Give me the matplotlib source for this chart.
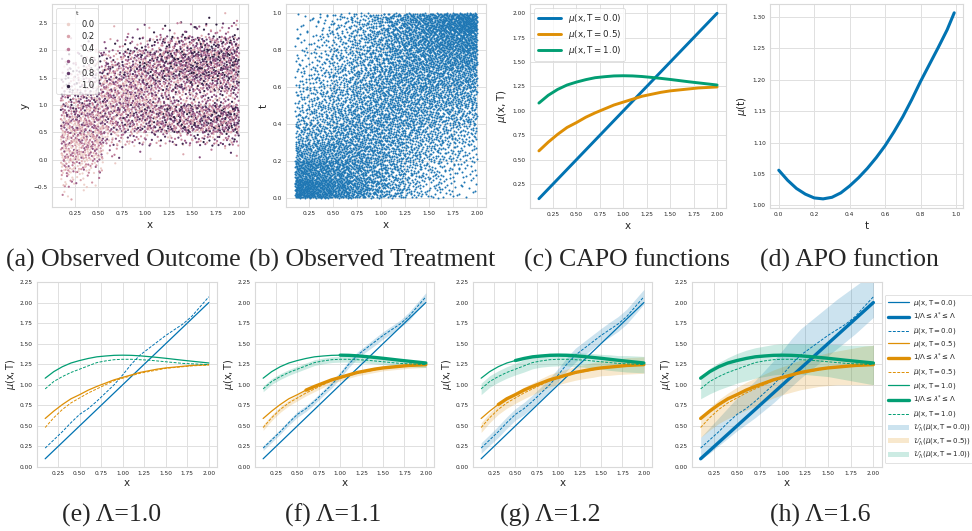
import numpy as np
import matplotlib
matplotlib.use("Agg")
import matplotlib.pyplot as plt
import seaborn as sns
from matplotlib.lines import Line2D
from matplotlib.patches import Patch

W, H = 972, 531

# wspolna siatka x dla funkcji CAPO
xs = [0.1, 0.2, 0.3, 0.4, 0.5, 0.6, 0.7, 0.8, 0.9, 1.0,
      1.1, 1.2, 1.3, 1.4, 1.5, 1.6, 1.7, 1.8, 1.9, 2.0]

# prawdziwe mu(x, T)
mu_t00 = [0.1, 0.2, 0.3, 0.4, 0.5, 0.6, 0.7, 0.8, 0.9, 1.0,
          1.1, 1.2, 1.3, 1.4, 1.5, 1.6, 1.7, 1.8, 1.9, 2.0]
mu_t05 = [0.59, 0.68, 0.76, 0.83, 0.88, 0.935, 0.98, 1.02, 1.06, 1.09,
          1.12, 1.15, 1.17, 1.19, 1.205, 1.215, 1.225, 1.235, 1.24, 1.245]
mu_t10 = [1.08, 1.16, 1.22, 1.265, 1.295, 1.32, 1.34, 1.35, 1.358, 1.36,
          1.358, 1.352, 1.343, 1.333, 1.322, 1.31, 1.298, 1.287, 1.276, 1.265]

# estymaty (linie przerywane)
hat_t00 = [0.23, 0.33, 0.43, 0.54, 0.64, 0.71, 0.80, 0.90, 1.00, 1.12,
           1.25, 1.36, 1.44, 1.52, 1.60, 1.67, 1.74, 1.83, 1.95, 2.07]
hat_t05 = [0.48, 0.60, 0.70, 0.78, 0.84, 0.90, 0.95, 1.00, 1.05, 1.08,
           1.11, 1.14, 1.16, 1.18, 1.20, 1.21, 1.22, 1.23, 1.235, 1.24]
hat_t10 = [0.95, 1.04, 1.10, 1.15, 1.19, 1.23, 1.27, 1.29, 1.305, 1.31,
           1.31, 1.305, 1.30, 1.29, 1.28, 1.27, 1.26, 1.255, 1.25, 1.245]

# polszerokosci przedzialow, Lambda = 1.1
f_w00 = [0.03, 0.03, 0.03, 0.03, 0.035, 0.035, 0.035, 0.035, 0.04, 0.04,
         0.04, 0.04, 0.04, 0.045, 0.045, 0.045, 0.045, 0.05, 0.05, 0.05]
f_w05 = [0.035, 0.035, 0.035, 0.035, 0.035, 0.035, 0.033, 0.033, 0.033, 0.033,
         0.03, 0.03, 0.03, 0.03, 0.03, 0.03, 0.03, 0.03, 0.03, 0.03]
f_w10 = [0.035, 0.035, 0.035, 0.035, 0.035, 0.035, 0.035, 0.035, 0.035, 0.035,
         0.035, 0.035, 0.035, 0.035, 0.035, 0.035, 0.035, 0.035, 0.035, 0.035]
# Lambda = 1.2
g_w00 = [0.065, 0.065, 0.07, 0.07, 0.07, 0.075, 0.075, 0.075, 0.08, 0.08,
         0.08, 0.085, 0.085, 0.085, 0.085, 0.09, 0.09, 0.09, 0.09, 0.09]
g_w05 = [0.06, 0.06, 0.06, 0.065, 0.065, 0.07, 0.07, 0.075, 0.075, 0.08,
         0.08, 0.085, 0.085, 0.09, 0.09, 0.095, 0.095, 0.1, 0.1, 0.1]
g_w10 = [0.07, 0.07, 0.07, 0.07, 0.07, 0.075, 0.075, 0.075, 0.08, 0.08,
         0.08, 0.085, 0.085, 0.09, 0.09, 0.095, 0.095, 0.1, 0.1, 0.1]
# Lambda = 1.6 (dolna / gorna granica)
h_lo00 = [0.09, 0.17, 0.26, 0.35, 0.44, 0.52, 0.60, 0.69, 0.78, 0.88,
          0.98, 1.08, 1.17, 1.26, 1.35, 1.44, 1.53, 1.62, 1.72, 1.82]
h_hi00 = [0.36, 0.48, 0.60, 0.72, 0.84, 0.94, 1.05, 1.17, 1.29, 1.42,
          1.56, 1.68, 1.77, 1.86, 1.95, 2.04, 2.12, 2.20, 2.28, 2.36]
h_lo05 = [0.36, 0.45, 0.53, 0.59, 0.64, 0.69, 0.74, 0.79, 0.84, 0.88,
          0.91, 0.94, 0.96, 0.98, 0.99, 1.0, 1.0, 1.0, 1.0, 1.0]
h_hi05 = [0.60, 0.72, 0.82, 0.90, 0.97, 1.03, 1.08, 1.13, 1.18, 1.22,
          1.26, 1.30, 1.33, 1.36, 1.39, 1.41, 1.43, 1.45, 1.47, 1.48]
h_lo10 = [0.83, 0.89, 0.94, 0.98, 1.02, 1.05, 1.08, 1.10, 1.12, 1.13,
          1.13, 1.13, 1.12, 1.11, 1.10, 1.08, 1.06, 1.04, 1.02, 1.00]
h_hi10 = [1.10, 1.20, 1.27, 1.33, 1.38, 1.42, 1.45, 1.47, 1.49, 1.50,
          1.50, 1.50, 1.50, 1.50, 1.49, 1.49, 1.48, 1.48, 1.48, 1.48]

# od jakiego x rysowac gruba linie 1/L <= l* <= L  (None = wcale)
thick_e = [None, None, None]
thick_f = [None, 0.6, 1.0]
thick_g = [None, 0.3, 0.5]
thick_h = [0.1, 0.1, 0.1]

# APO
t_apo = [0.0, 0.05, 0.1, 0.15, 0.2, 0.25, 0.3, 0.35, 0.4, 0.45, 0.5,
         0.55, 0.6, 0.65, 0.7, 0.75, 0.8, 0.85, 0.9, 0.95, 0.99]
mu_apo = [1.056, 1.040, 1.027, 1.018, 1.012, 1.0105, 1.013, 1.020, 1.031, 1.044, 1.059,
          1.076, 1.095, 1.117, 1.141, 1.168, 1.197, 1.224, 1.251, 1.279, 1.306]

# gestosc punktow (b): wiersze t 0-0.1 ... 0.9-1.0, kolumny wg xb_edges_b
xb_edges_b = [0.1, 0.29, 0.48, 0.67, 0.86, 1.05, 1.24, 1.43, 1.62, 1.81, 2.0]
dens_b = [
    [230, 190, 150, 115, 85, 60, 40, 25, 15, 10],
    [160, 140, 120, 100, 80, 62, 45, 32, 22, 15],
    [90, 95, 95, 90, 80, 68, 55, 42, 32, 25],
    [55, 65, 75, 80, 78, 72, 65, 55, 45, 38],
    [40, 50, 62, 72, 78, 78, 74, 68, 60, 55],
    [30, 40, 52, 65, 75, 80, 80, 78, 74, 70],
    [22, 32, 45, 58, 72, 82, 88, 90, 90, 90],
    [16, 25, 38, 52, 68, 84, 96, 105, 112, 120],
    [12, 20, 32, 46, 64, 85, 105, 122, 140, 160],
    [8, 15, 26, 40, 60, 85, 112, 140, 175, 220],
]

# gestosc punktow (a): wiersze y od -0.75 co 0.25, kolumny wg xb_edges_a
xb_edges_a = [0.1, 0.25, 0.4, 0.55, 0.75, 0.95, 1.15, 1.35, 1.55, 1.75, 2.0]
dens_a = [
    [4, 1, 0, 0, 0, 0, 0, 0, 0, 0],
    [14, 8, 3, 0, 0, 0, 0, 0, 0, 0],
    [30, 25, 15, 1, 0, 0, 0, 0, 0, 0],
    [40, 40, 35, 6, 2, 1, 0, 1, 2, 3],
    [42, 45, 45, 25, 18, 14, 15, 18, 22, 30],
    [40, 45, 45, 45, 45, 45, 50, 55, 60, 75],
    [32, 38, 42, 55, 55, 55, 55, 55, 58, 72],
    [25, 30, 35, 55, 55, 45, 32, 28, 26, 30],
    [16, 22, 28, 50, 52, 48, 42, 44, 46, 56],
    [10, 15, 20, 40, 48, 52, 55, 58, 60, 75],
    [5, 8, 12, 22, 35, 45, 55, 58, 60, 75],
    [1, 2, 3, 6, 12, 20, 32, 36, 40, 52],
    [0, 0, 0, 1, 2, 3, 6, 8, 10, 13],
    [0, 0, 0, 0, 0, 0, 0, 1, 1, 2],
]
# typowe t w komorce (kolor punktow w (a))
tmean_a = [
    [0.1, 0.1, 0.1, 0.1, 0.1, 0.1, 0.1, 0.1, 0.1, 0.1],
    [0.12, 0.12, 0.15, 0.2, 0.2, 0.2, 0.2, 0.2, 0.2, 0.2],
    [0.15, 0.15, 0.15, 0.3, 0.3, 0.3, 0.3, 0.3, 0.3, 0.3],
    [0.15, 0.15, 0.2, 0.35, 0.35, 0.35, 0.45, 0.45, 0.5, 0.5],
    [0.2, 0.2, 0.25, 0.35, 0.4, 0.45, 0.5, 0.5, 0.55, 0.55],
    [0.3, 0.3, 0.3, 0.4, 0.45, 0.5, 0.55, 0.55, 0.55, 0.6],
    [0.45, 0.4, 0.35, 0.4, 0.45, 0.5, 0.55, 0.55, 0.55, 0.6],
    [0.55, 0.5, 0.45, 0.35, 0.35, 0.4, 0.45, 0.45, 0.45, 0.5],
    [0.6, 0.55, 0.5, 0.35, 0.35, 0.45, 0.5, 0.55, 0.55, 0.55],
    [0.6, 0.55, 0.5, 0.45, 0.5, 0.55, 0.55, 0.6, 0.6, 0.6],
    [0.65, 0.6, 0.55, 0.5, 0.55, 0.55, 0.6, 0.6, 0.6, 0.6],
    [0.65, 0.65, 0.6, 0.6, 0.6, 0.6, 0.6, 0.6, 0.6, 0.6],
    [0.6, 0.6, 0.6, 0.6, 0.6, 0.6, 0.6, 0.6, 0.6, 0.6],
    [0.6, 0.6, 0.6, 0.6, 0.6, 0.6, 0.6, 0.6, 0.6, 0.6],
]

captions_top = ["(a) Observed Outcome", "(b) Observed Treatment", "(c) CAPO functions", "(d) APO function"]
captions_bot = ["(e) \u039b=1.0", "(f) \u039b=1.1", "(g) \u039b=1.2", "(h) \u039b=1.6"]


def halton(i, base):
    f, r = 1.0, 0.0
    while i > 0:
        f /= base
        r += f * (i % base)
        i //= base
    return r


def punkty_z_tabeli(tabela, x_kraw, y_kraw):
    # rozklada punkty w komorkach wg tabeli (ciag Haltona, bez losowania)
    px, py, kom, ks = [], [], [], []
    k = 1
    for j in range(len(y_kraw) - 1):
        for i in range(len(x_kraw) - 1):
            for _ in range(tabela[j][i]):
                px.append(x_kraw[i] + halton(k, 2) * (x_kraw[i + 1] - x_kraw[i]))
                py.append(y_kraw[j] + halton(k, 3) * (y_kraw[j + 1] - y_kraw[j]))
                kom.append((j, i))
                ks.append(k)
                k += 1
    return np.array(px), np.array(py), kom, ks


def box(l, t, r, b):
    return [l / W, 1 - b / H, (r - l) / W, (b - t) / H]


sns.set_theme(style="whitegrid")
plt.rcParams['font.family'] = ['DejaVu Sans']
plt.rcParams['axes.edgecolor'] = '.85'
plt.rcParams['axes.linewidth'] = 0.8
plt.rcParams['grid.color'] = '.88'
plt.rcParams['grid.linewidth'] = 0.7
plt.rcParams['xtick.labelsize'] = 4.2
plt.rcParams['ytick.labelsize'] = 4.2
plt.rcParams['xtick.major.size'] = 0
plt.rcParams['ytick.major.size'] = 0
plt.rcParams['xtick.major.pad'] = 3
plt.rcParams['ytick.major.pad'] = 3
plt.rcParams['axes.labelsize'] = 7.5
plt.rcParams['axes.labelpad'] = 2.5

kolory = sns.color_palette("colorblind")[:3]
cmap_t = sns.cubehelix_palette(as_cmap=True)

fig = plt.figure(figsize=(W / 100, H / 100), dpi=100)

# (a) obserwowany wynik
ax = fig.add_axes(box(52, 4, 248, 207))
px, py, kom, ks = punkty_z_tabeli(dens_a, xb_edges_a, np.arange(-0.75, 2.76, 0.25))
tt = np.array([min(1, max(0, tmean_a[j][i] + (halton(k, 5) - 0.5) * 1.0)) for (j, i), k in zip(kom, ks)])
kol = np.argsort([halton(k, 7) for k in ks])
ax.scatter(px[kol], py[kol], c=tt[kol], cmap=cmap_t, vmin=0, vmax=1, s=2.5, linewidths=0)
ax.set_xlim(0.005, 2.095)
ax.set_ylim(-0.86, 2.84)
ax.set_xticks(np.arange(0.25, 2.01, 0.25))
ax.set_xlabel("x")
ax.set_ylabel("y")
uchwyty = [Line2D([], [], ls='', marker='o', ms=2.5, mew=0, color=cmap_t(v)) for v in [0.0, 0.2, 0.4, 0.6, 0.8, 1.0]]
leg = ax.legend(uchwyty, ["0.0", "0.2", "0.4", "0.6", "0.8", "1.0"], title="t", loc="upper left",
                fontsize=6, title_fontsize=4.5, handletextpad=0.6, labelspacing=0.4, borderpad=0.4,
                frameon=True, framealpha=0.8)
leg.get_frame().set_linewidth(0.5)

# (b) obserwowane leczenie
ax = fig.add_axes(box(286, 4, 486, 207))
px, py, kom, ks = punkty_z_tabeli(dens_b, xb_edges_b, np.linspace(0, 1, 11))
ax.scatter(px, py, color="#1f77b4", s=2.1, linewidths=0)
ax.set_xlim(0.005, 2.095)
ax.set_ylim(-0.05, 1.05)
ax.set_xticks(np.arange(0.25, 2.01, 0.25))
ax.set_yticks(np.arange(0, 1.01, 0.2))
ax.set_xlabel("x")
ax.set_ylabel("t")

# (c) funkcje CAPO
ax = fig.add_axes(box(530, 4, 726, 208))
for mu, c, lab in zip([mu_t00, mu_t05, mu_t10], kolory, ["0.0", "0.5", "1.0"]):
    ax.plot(xs, mu, color=c, lw=2.1, label=r"$\mu(\mathrm{x}, \mathrm{T}=%s)$" % lab)
ax.set_xticks(np.arange(0.25, 2.01, 0.25))
ax.set_yticks(np.arange(0.25, 2.01, 0.25))
ax.set_xlabel("x")
ax.set_ylabel(r"$\mu(\mathrm{x}, \mathrm{T})$")
leg = ax.legend(loc="upper left", fontsize=6.3, handlelength=2.6, labelspacing=0.35, borderpad=0.4)
leg.get_frame().set_linewidth(0.5)

# (d) funkcja APO
ax = fig.add_axes(box(770, 4, 963, 208))
ax.plot(t_apo, mu_apo, color=kolory[0], lw=2.2)
ax.set_xticks(np.arange(0, 1.01, 0.2))
ax.set_yticks(np.arange(1.0, 1.301, 0.05))
ax.set_ylim(0.996, 1.32)
ax.set_xlabel("t")
ax.set_ylabel(r"$\mu(\mathrm{t})$")

# dolny rzad
mu_all = [np.array(mu_t00), np.array(mu_t05), np.array(mu_t10)]
hat_all = [np.array(hat_t00), np.array(hat_t05), np.array(hat_t10)]
xa = np.array(xs)

bandy_e = None
bandy_f = [(hat_all[i] - np.array(w), hat_all[i] + np.array(w)) for i, w in enumerate([f_w00, f_w05, f_w10])]
bandy_g = [(hat_all[i] - np.array(w), hat_all[i] + np.array(w)) for i, w in enumerate([g_w00, g_w05, g_w10])]
bandy_h = [(h_lo00, h_hi00), (h_lo05, h_hi05), (h_lo10, h_hi10)]

pozycje = [(37, 217), (255, 434), (473, 652), (692, 882)]
for (l, r), bandy, grube in zip(pozycje, [bandy_e, bandy_f, bandy_g, bandy_h], [thick_e, thick_f, thick_g, thick_h]):
    ax = fig.add_axes(box(l, 282, r, 467))
    for i in range(3):
        c = kolory[i]
        if bandy is not None:
            ax.fill_between(xs, bandy[i][0], bandy[i][1], color=c, alpha=0.2, lw=0)
        ax.plot(xs, mu_all[i], color=c, lw=0.9)
        if grube[i] is not None:
            m = xa >= grube[i] - 1e-9
            ax.plot(xa[m], mu_all[i][m], color=c, lw=2.4)
        ax.plot(xs, hat_all[i], color=c, lw=0.7, ls=(0, (3, 1.5)))
    ax.set_ylim(0, 2.25)
    ax.set_xlim(0.005, 2.095)
    ax.set_xticks(np.arange(0.25, 2.01, 0.25))
    ax.set_yticks(np.arange(0, 2.26, 0.25))
    ax.set_xlabel("x", labelpad=1.5)
    ax.set_ylabel(r"$\mu(\mathrm{x}, \mathrm{T})$", fontsize=7, labelpad=1.5)

# legenda przy (h)
uchwyty, opisy = [], []
for c, lab in zip(kolory, ["0.0", "0.5", "1.0"]):
    uchwyty += [Line2D([], [], color=c, lw=0.9), Line2D([], [], color=c, lw=2.4),
                Line2D([], [], color=c, lw=0.7, ls=(0, (3, 1.5)))]
    opisy += [r"$\mu(\mathrm{x}, \mathrm{T}=%s)$" % lab, r"$1/\Lambda \leq \lambda^{*} \leq \Lambda$",
              r"$\widehat{\mu}(\mathrm{x}, \mathrm{T}=%s)$" % lab]
for c, lab in zip(kolory, ["0.0", "0.5", "1.0"]):
    uchwyty.append(Patch(facecolor=c, alpha=0.2, lw=0))
    opisy.append(r"$\mathcal{U}_{\Lambda}(\widehat{\mu}(\mathrm{x}, \mathrm{T}=%s))$" % lab)
leg = ax.legend(uchwyty, opisy, loc="upper left", bbox_to_anchor=(885 / W, 1 - 295 / H),
                bbox_transform=fig.transFigure, fontsize=5.0, handlelength=3, labelspacing=0.4,
                borderpad=0.4, borderaxespad=0, handletextpad=0.6)
leg.get_frame().set_linewidth(0.5)

# podpisy
for tekst, xc in zip(captions_top, [123, 372, 627, 849]):
    fig.text(xc / W, 1 - 260 / H, tekst, ha="center", va="center", family="Liberation Serif", fontsize=18.5)
for tekst, xc in zip(captions_bot, [112, 333, 550, 820]):
    fig.text(xc / W, 1 - 515 / H, tekst, ha="center", va="center", family="Liberation Serif", fontsize=18.5)

fig.savefig("out.png", dpi=100)
